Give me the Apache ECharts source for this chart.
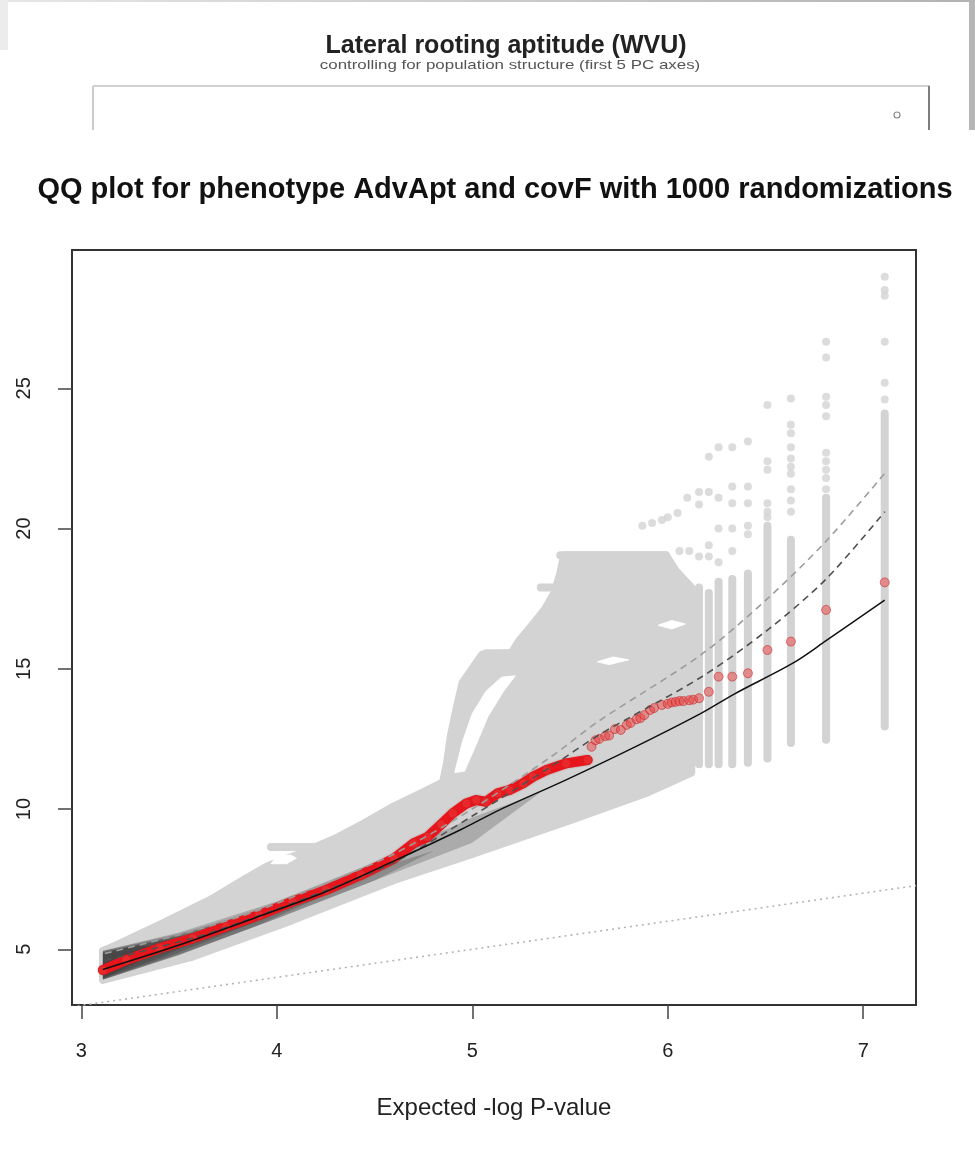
<!DOCTYPE html>
<html><head><meta charset="utf-8">
<script src="https://cdn.jsdelivr.net/npm/echarts@6/dist/echarts.min.js"></script>
<style>html,body{margin:0;padding:0;background:#fff}#c{width:975px;height:1151px}</style>
</head><body><div id="c"></div>
<script>
// ---------- axis ticks ----------
const xTicks = [3, 4, 5, 6, 7];
const yTicks = [5, 10, 15, 20, 25];

// ---------- reference y = x (dotted) ----------
const refX = [2.95, 7.27];
const refY = [2.95, 7.27];

// ---------- expected median (solid black) ----------
const medX = [3.11, 3.5, 3.9, 4.25, 4.6, 4.94, 5.14, 5.48, 5.82, 6.17, 6.34, 6.64, 6.81, 7.11];
const medY = [4.28, 5.15, 6.15, 7.05, 8.15, 9.26, 9.97, 11.04, 12.17, 13.41, 14.1, 15.2, 16.0, 17.45];

// ---------- quantile envelopes (dashed) ----------
const envX = [3.12, 3.57, 3.91, 4.25, 4.6, 5.0, 5.4, 5.65, 6.17, 6.51, 6.81, 7.11];
const envUpper = [4.85, 5.65, 6.4, 7.35, 8.4, 10.0, 11.85, 13.15, 15.5, 17.5, 19.55, 21.97];
const envLower = [4.6, 5.4, 6.2, 7.1, 8.1, 9.75, 11.5, 12.65, 14.7, 16.38, 18.2, 20.6];

// ---------- observed (red) ----------
const obsX = [3.11, 3.23, 3.40, 3.57, 3.74, 3.91, 4.08, 4.25, 4.43, 4.60, 4.70, 4.77, 4.84, 4.90, 4.97, 5.02, 5.07, 5.13, 5.19, 5.26, 5.31, 5.38, 5.48, 5.59,
              5.61, 5.63, 5.65, 5.68, 5.70, 5.73, 5.76, 5.79, 5.81, 5.84, 5.86, 5.88, 5.91, 5.93, 5.97, 6.00, 6.02, 6.04, 6.06, 6.08, 6.11, 6.13,
              6.16, 6.21, 6.26, 6.33, 6.41, 6.51, 6.63, 6.81, 7.11];
const obsY = [4.26, 4.62, 5.04, 5.39, 5.81, 6.22, 6.70, 7.11, 7.65, 8.24, 8.78, 9.0, 9.45, 9.85, 10.2, 10.32, 10.26, 10.56, 10.68, 10.92, 11.15, 11.39, 11.63, 11.75,
              12.22, 12.45, 12.5, 12.6, 12.62, 12.85, 12.82, 13.0, 13.07, 13.2, 13.24, 13.35, 13.53, 13.6, 13.71, 13.75, 13.8, 13.82, 13.85, 13.85, 13.88, 13.9,
              13.95, 14.18, 14.72, 14.72, 14.84, 15.67, 15.97, 17.10, 18.08];
const denseUntil = 5.6; // observed points merge into a solid band up to here

// ---------- randomization cloud (grey), outlines ----------
const cloudBody = [[3.11,3.91],[3.11,4.95],[3.15,5.05],[3.40,5.87],[3.66,6.76],[3.83,7.47],[3.95,7.95],[4.1,8.35],[4.3,8.95],[4.45,9.5],[4.6,10.1],[4.75,10.6],[4.85,10.95],
  [4.87,11.6],[4.89,12.6],[4.92,13.6],[4.95,14.5],[5.0,15.0],[5.05,15.5],[5.2,15.55],
  [5.24,16.0],[5.3,16.5],[5.37,17.1],[5.42,17.7],[5.45,18.4],[5.47,19.05],[5.99,19.05],[6.04,18.5],[6.12,17.9],
  [6.12,11.3],[5.9,10.6],[5.5,9.6],[5.0,8.4],[4.6,7.47],[4.08,6.04],[3.57,4.74]];
const cloudHoles = [
  [[4.91,11.3],[4.95,12.4],[5.0,13.4],[5.07,14.2],[5.15,14.7],[5.22,14.75],[5.16,14.2],[5.08,13.3],[5.02,12.3],[4.96,11.35]],
  [[5.64,15.25],[5.72,15.42],[5.8,15.32],[5.7,15.15]],
  [[5.95,16.55],[6.02,16.72],[6.09,16.6],[6.02,16.42]],
  [[3.97,8.05],[4.0,8.3],[4.07,8.36],[4.1,8.25],[4.05,8.05]]
];
// density shading of the overlapping randomizations (each layer darkens what is below)
const shadeLayers = [
  [[3.11,4.95],[3.5,5.6],[4.0,6.7],[4.5,8.1],[5.0,9.7],[5.35,10.6],[5.0,8.8],[4.5,7.45],[4.0,6.1],[3.5,4.8],[3.11,3.91]],
  [[3.11,4.95],[3.5,5.55],[4.0,6.55],[4.5,7.85],[4.8,8.5],[4.5,7.45],[4.0,6.1],[3.5,4.8],[3.11,3.91]],
  [[3.11,4.93],[3.5,5.5],[3.9,6.3],[4.3,7.1],[3.9,5.85],[3.5,4.82],[3.11,3.92]],
  [[3.11,4.9],[3.45,5.4],[3.9,6.0],[3.45,4.75],[3.11,3.93]],
  [[3.11,4.88],[3.4,5.3],[3.65,5.5],[3.4,4.7],[3.11,3.95]],
  [[3.11,4.85],[3.25,5.1],[3.4,5.1],[3.25,4.4],[3.11,3.97]]
];
// horizontal streaks: [x start, x end, y]
const streaks = [[3.97,4.3,8.65],[5.07,5.76,15.55],[5.30,5.59,15.13],[5.35,5.65,17.9],[5.45,5.99,19.05]];
// vertical columns at the top expected values: x, lowest y, highest continuous y
const colX = [7.11, 6.81, 6.63, 6.51, 6.41, 6.33, 6.26, 6.21, 6.16];
const colLo = [12.94, 12.47, 12.35, 11.8, 11.65, 11.6, 11.6, 11.6, 11.6];
const colHi = [24.1, 21.1, 19.6, 20.1, 18.4, 18.2, 18.1, 17.7, 17.9];
// isolated grey points
const dotX = [7.11,7.11,7.11,7.11,7.11,7.11, 6.81,6.81,6.81,6.81,6.81,6.81,6.81,6.81,6.81,6.81, 6.63,6.63,6.63,6.63,6.63,6.63,6.63,6.63,6.63,6.63,
              6.51,6.51,6.51,6.51,6.51,6.51, 6.41,6.41,6.41,6.41,6.41, 6.33,6.33,6.33,6.33,6.33, 6.26,6.26,6.26,6.26, 6.21,6.21,6.21,6.21, 6.16,6.16,6.16,
              5.87,5.92,5.97,6.0,6.05,6.1, 6.06,6.11];
const dotY = [28.98,28.5,28.3,26.66,25.2,24.6, 26.66,26.1,24.7,24.4,24.0,22.7,22.4,22.1,21.8,21.4, 24.64,23.7,23.4,22.9,22.5,22.2,21.95,21.4,21.0,20.6,
              24.4,22.4,22.1,20.9,20.6,20.4, 23.1,21.5,20.9,20.1,19.8, 22.9,21.5,20.9,20.0,19.2, 22.9,21.1,20.0,18.8, 22.56,21.3,19.4,19.0, 21.3,20.86,19.0,
              20.1,20.2,20.3,20.4,20.55,21.1, 19.2,19.2];

const GREY = '#d3d3d3';
const chart = echarts.init(document.getElementById('c'), null, {renderer: 'canvas'});

function polySeries(name, pts, fill, stroke, lw, z) {
  return {
    type: 'custom', name, coordinateSystem: 'cartesian2d', silent: true, z, clip: true,
    data: [[pts[0][0], pts[0][1]]],
    renderItem: (params, api) => ({
      type: 'polygon',
      shape: {points: pts.map(p => api.coord(p))},
      style: {fill, stroke, lineWidth: lw, lineJoin: 'round'}
    })
  };
}
const zip = (xs, ys) => xs.map((x, i) => [x, ys[i]]);
const segStyle = {stroke: GREY, lineWidth: 8, lineCap: 'round'};

const series = [
  {type: 'line', name: 'y=x', data: zip(refX, refY), showSymbol: false, silent: true, z: 1,
   lineStyle: {color: '#b4b4b4', width: 1.6, type: [2, 4]}},
  polySeries('cloud', cloudBody, GREY, GREY, 8, 2),
  {type: 'custom', name: 'streaks', coordinateSystem: 'cartesian2d', silent: true, z: 2, clip: true,
   data: streaks,
   renderItem: (params, api) => {
     const a = api.coord([api.value(0), api.value(2)]), b = api.coord([api.value(1), api.value(2)]);
     return {type: 'line', shape: {x1: a[0], y1: a[1], x2: b[0], y2: b[1]}, style: segStyle};
   }},
  {type: 'custom', name: 'columns', coordinateSystem: 'cartesian2d', silent: true, z: 2, clip: true,
   data: colX.map((x, i) => [x, colLo[i], colHi[i]]),
   renderItem: (params, api) => {
     const a = api.coord([api.value(0), api.value(1)]), b = api.coord([api.value(0), api.value(2)]);
     return {type: 'line', shape: {x1: a[0], y1: a[1], x2: b[0], y2: b[1]}, style: segStyle};
   }},
  {type: 'scatter', name: 'grey points', data: zip(dotX, dotY), symbolSize: 8, silent: true, z: 2,
   itemStyle: {color: GREY}},
  ...cloudHoles.map((h, i) => polySeries('hole' + i, h, '#ffffff', '#ffffff', 1, 3)),
  ...shadeLayers.map((s, i) => polySeries('shade' + i, s, 'rgba(30,30,30,0.22)', 'rgba(30,30,30,0)', 0, 4)),
  {type: 'line', name: 'observed band', data: zip(obsX, obsY).filter(p => p[0] <= denseUntil), showSymbol: false, silent: true, z: 6,
   lineStyle: {color: '#e8161c', width: 10, cap: 'round', join: 'round', shadowColor: 'rgba(150,0,0,0.35)', shadowBlur: 2}},
  {type: 'scatter', name: 'observed', data: zip(obsX, obsY), symbolSize: 9, silent: true, z: 7,
   itemStyle: {color: 'rgba(236,60,60,0.6)', borderColor: 'rgba(200,30,30,0.7)', borderWidth: 1}},
  {type: 'line', name: 'upper', data: zip(envX, envUpper), showSymbol: false, silent: true, z: 8, smooth: 0.3,
   lineStyle: {color: '#9c9c9c', width: 1.6, type: [7, 5]}},
  {type: 'line', name: 'lower', data: zip(envX, envLower), showSymbol: false, silent: true, z: 8, smooth: 0.3,
   lineStyle: {color: '#505050', width: 1.6, type: [7, 5]}},
  {type: 'line', name: 'median', data: zip(medX, medY), showSymbol: false, silent: true, z: 9, smooth: 0.3,
   lineStyle: {color: '#111', width: 1.5}}
];

const FONT = '"Liberation Sans", Arial, Helvetica, sans-serif';
chart.setOption({
  animation: false,
  backgroundColor: '#fff',
  textStyle: {fontFamily: FONT},
  grid: {left: 72, right: 59, top: 250, bottom: 146, show: true, borderColor: '#333', borderWidth: 2, backgroundColor: 'transparent'},
  xAxis: {
    type: 'value', min: 2.952, max: 7.27,
    axisLine: {show: false}, splitLine: {show: false},
    axisTick: {show: true, length: 14, lineStyle: {color: '#444', width: 1.5}, customValues: xTicks},
    axisLabel: {customValues: xTicks, fontSize: 20, color: '#222', margin: 36, fontFamily: FONT},
    name: 'Expected -log P-value', nameLocation: 'middle', nameGap: 91,
    nameTextStyle: {fontSize: 24, color: '#222', fontFamily: FONT}
  },
  yAxis: {
    type: 'value', min: 3.014, max: 29.93,
    axisLine: {show: false}, splitLine: {show: false},
    axisTick: {show: true, length: 14, lineStyle: {color: '#444', width: 1.5}, customValues: yTicks},
    axisLabel: {customValues: yTicks, fontSize: 20, color: '#222', margin: 38, rotate: 90, fontFamily: FONT}
  },
  graphic: [
    {type: 'rect', shape: {x: 0, y: 0, width: 975, height: 2}, style: {fill: new echarts.graphic.LinearGradient(0, 0, 1, 0, [{offset: 0, color: '#e6e6e6'}, {offset: 1, color: '#b2b2b2'}])}, silent: true},
    {type: 'rect', shape: {x: 0, y: 0, width: 8, height: 50}, style: {fill: '#ececec'}, silent: true},
    {type: 'rect', shape: {x: 969, y: 0, width: 6, height: 130}, style: {fill: '#b6b6b6'}, silent: true},
    {type: 'line', shape: {x1: 93, y1: 86, x2: 930, y2: 86}, style: {stroke: '#d0d0d0', lineWidth: 2}, silent: true},
    {type: 'line', shape: {x1: 93, y1: 86, x2: 93, y2: 130}, style: {stroke: '#cccccc', lineWidth: 2}, silent: true},
    {type: 'line', shape: {x1: 929, y1: 86, x2: 929, y2: 130}, style: {stroke: '#7e7e7e', lineWidth: 2}, silent: true},
    {type: 'circle', shape: {cx: 897, cy: 115, r: 3}, style: {fill: 'none', stroke: '#8a8a8a', lineWidth: 1.2}, silent: true},
    {type: 'text', x: 506, y: 46, silent: true,
     style: {text: 'Lateral rooting aptitude (WVU)', font: 'bold 25px ' + FONT, fill: '#222', align: 'center', verticalAlign: 'middle'}},
    {type: 'text', x: 510, y: 65, scaleX: 1.3, silent: true,
     style: {text: 'controlling for population structure (first 5 PC axes)', font: '13px ' + FONT, fill: '#555', align: 'center', verticalAlign: 'middle'}},
    {type: 'text', x: 495, y: 190, silent: true,
     style: {text: 'QQ plot for phenotype AdvApt and covF with 1000 randomizations', font: 'bold 29px ' + FONT, fill: '#111', align: 'center', verticalAlign: 'middle'}}
  ],
  series
});
</script></body></html>
